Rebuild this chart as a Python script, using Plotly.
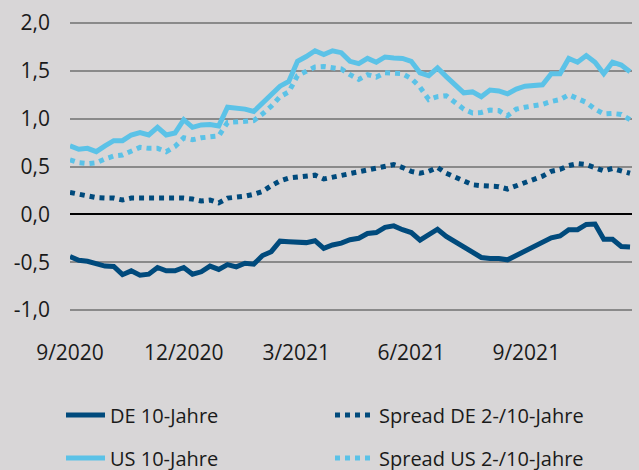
import pandas as pd
import plotly.graph_objects as go

dates = pd.date_range("2020-09-01", periods=65, freq="7D")

de10 = [-0.44, -0.48, -0.49, -0.52, -0.54, -0.545, -0.63, -0.59, -0.635, -0.625,
        -0.555, -0.59, -0.59, -0.555, -0.625, -0.60, -0.54, -0.575, -0.525, -0.548,
        -0.51, -0.52, -0.43, -0.39, -0.28, -0.285, -0.29, -0.295, -0.275, -0.355,
        -0.32, -0.30, -0.265, -0.25, -0.20, -0.19, -0.135, -0.12, -0.16, -0.19,
        -0.27, -0.205, -0.155, -0.23, -0.285, -0.34, -0.41, -0.45, -0.46, -0.46,
        -0.475, -0.43, -0.375, -0.34, -0.29, -0.245, -0.225, -0.16, -0.16, -0.105,
        -0.10, -0.26, -0.26, -0.335, -0.34]

us10 = [0.716, 0.68, 0.69, 0.656, 0.716, 0.77, 0.77, 0.83, 0.855, 0.83,
        0.91, 0.83, 0.85, 0.99, 0.91, 0.935, 0.94, 0.925, 1.12, 1.11,
        1.10, 1.075, 1.16, 1.24, 1.34, 1.39, 1.60, 1.65, 1.71, 1.67,
        1.71, 1.69, 1.60, 1.575, 1.63, 1.59, 1.645, 1.635, 1.63, 1.60,
        1.48, 1.45, 1.53, 1.44, 1.35, 1.27, 1.28, 1.23, 1.30, 1.29,
        1.26, 1.31, 1.34, 1.345, 1.355, 1.47, 1.47, 1.63, 1.59, 1.66,
        1.59, 1.47, 1.59, 1.56, 1.49]

spread_de = [0.23, 0.21, 0.19, 0.175, 0.17, 0.17, 0.15, 0.17, 0.17, 0.17,
             0.175, 0.175, 0.175, 0.17, 0.16, 0.14, 0.15, 0.12, 0.17, 0.175,
             0.19, 0.21, 0.24, 0.30, 0.35, 0.38, 0.39, 0.39, 0.41, 0.37,
             0.39, 0.40, 0.42, 0.44, 0.47, 0.48, 0.51, 0.52, 0.49, 0.45,
             0.43, 0.45, 0.49, 0.43, 0.39, 0.35, 0.31, 0.30, 0.30, 0.29,
             0.265, 0.30, 0.335, 0.37, 0.40, 0.45, 0.47, 0.51, 0.53, 0.52,
             0.49, 0.455, 0.48, 0.45, 0.43]

spread_us = [0.57, 0.54, 0.53, 0.54, 0.58, 0.61, 0.62, 0.665, 0.70, 0.69,
             0.69, 0.655, 0.71, 0.80, 0.78, 0.80, 0.81, 0.82, 0.96, 0.97,
             0.97, 0.98, 1.05, 1.13, 1.23, 1.28, 1.45, 1.50, 1.54, 1.545,
             1.53, 1.52, 1.46, 1.41, 1.46, 1.435, 1.48, 1.47, 1.47, 1.42,
             1.33, 1.20, 1.23, 1.24, 1.17, 1.10, 1.06, 1.065, 1.09, 1.085,
             1.03, 1.10, 1.12, 1.13, 1.15, 1.18, 1.20, 1.25, 1.21, 1.17,
             1.10, 1.05, 1.055, 1.045, 0.99]

x_tickvals = ["2020-09-01", "2020-12-01", "2021-03-01", "2021-06-01", "2021-09-01"]
x_ticktext = ["9/2020", "12/2020", "3/2021", "6/2021", "9/2021"]
y_tickvals = [-1.0, -0.5, 0.0, 0.5, 1.0, 1.5, 2.0]
y_ticktext = ["-1,0", "-0,5", "0,0", "0,5", "1,0", "1,5", "2,0"]

DARK = "#004a7c"
LIGHT = "#5bc2e7"
BG = "#d8d6d7"
FONT = "Open Sans"

fig = go.Figure()
fig.add_trace(go.Scatter(x=dates, y=spread_us, mode="lines", name="Spread US 2-/10-Jahre",
                         line=dict(color=LIGHT, width=5, dash="dot"), legend="legend2",
                         legendwidth=215))
fig.add_trace(go.Scatter(x=dates, y=spread_de, mode="lines", name="Spread DE 2-/10-Jahre",
                         line=dict(color=DARK, width=5, dash="dot"), legend="legend",
                         legendwidth=215))
fig.add_trace(go.Scatter(x=dates, y=us10, mode="lines", name="US 10-Jahre",
                         line=dict(color=LIGHT, width=5), legend="legend2",
                         legendwidth=215))
fig.add_trace(go.Scatter(x=dates, y=de10, mode="lines", name="DE 10-Jahre",
                         line=dict(color=DARK, width=5), legend="legend",
                         legendwidth=215))

legend_common = dict(orientation="h", xref="container", yref="container",
                     xanchor="left", yanchor="middle",
                     traceorder="reversed", itemwidth=39,
                     font=dict(family=FONT, size=20, color="#1a1a1a"),
                     bgcolor="rgba(0,0,0,0)", borderwidth=0)

fig.update_layout(
    width=639, height=470,
    paper_bgcolor=BG, plot_bgcolor=BG,
    margin=dict(l=70, r=7, t=21, b=136),
    font=dict(family=FONT, size=21, color="#1a1a1a"),
    showlegend=True,
    legend=dict(**legend_common, x=61 / 639, y=1 - 415 / 470),
    legend2=dict(**legend_common, x=61 / 639, y=1 - 458 / 470),
    xaxis=dict(type="date", range=["2020-09-01", "2021-11-24 14:00"],
               tickvals=x_tickvals, ticktext=x_ticktext, showgrid=False,
               zeroline=False, showline=False, ticks="", ticklabelstandoff=4,
               tickfont=dict(family=FONT, size=21, color="#1a1a1a")),
    yaxis=dict(range=[-1.25, 2.021], tickvals=y_tickvals, ticktext=y_ticktext,
               showgrid=True, gridcolor="#8a8a8a", gridwidth=1.5,
               zeroline=True, zerolinecolor="#000000", zerolinewidth=1.5,
               showline=False, ticks="", ticklabelstandoff=19,
               tickfont=dict(family=FONT, size=21, color="#1a1a1a")),
)

fig.write_html("out.html", config={"displayModeBar": False},
               post_script="document.body.style.margin='0px';")
